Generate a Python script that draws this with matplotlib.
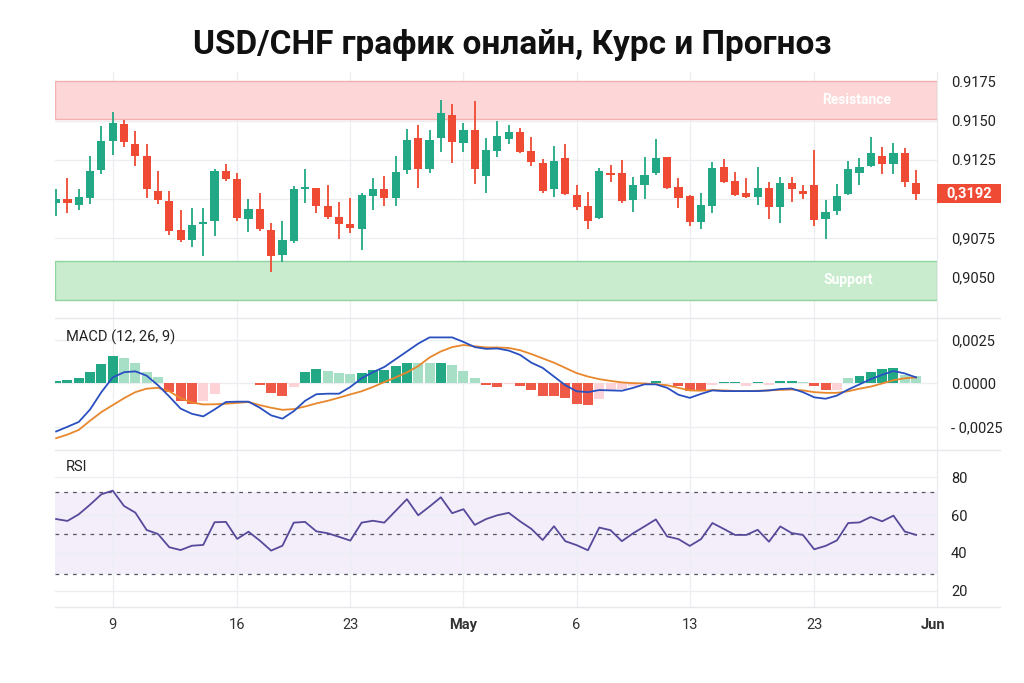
import matplotlib
matplotlib.use('Agg')
import matplotlib.pyplot as plt
from matplotlib.lines import Line2D
from matplotlib.patches import Rectangle

plt.rcParams['font.family'] = ['Roboto', 'DejaVu Sans']

title = 'USD/CHF график онлайн, Курс и Прогноз'

# candles
opens = [0.90972, 0.91000, 0.90964, 0.91009, 0.91186, 0.91374, 0.91481, 0.91353, 0.91276, 0.91051,
         0.90989, 0.90799, 0.90737, 0.90838, 0.90861, 0.91179, 0.91130, 0.90874, 0.90938, 0.90801,
         0.90639, 0.90729, 0.91064, 0.91068, 0.90957, 0.90882, 0.90838, 0.90806, 0.91019, 0.91064,
         0.91009, 0.91186, 0.91391, 0.91192, 0.91393, 0.91538, 0.91361, 0.91442, 0.91150, 0.91308,
         0.91387, 0.91429, 0.91308, 0.91233, 0.91064, 0.91261, 0.91026, 0.90953, 0.90878, 0.91167,
         0.91169, 0.90991, 0.91090, 0.91167, 0.91267, 0.91079, 0.91019, 0.90850, 0.90957, 0.91203,
         0.91113, 0.91038, 0.91013, 0.91068, 0.90947, 0.91100, 0.91049, 0.91088, 0.90874, 0.90923,
         0.91032, 0.91165, 0.91214, 0.91276, 0.91224, 0.91293, 0.91100]
closes = [0.91000, 0.90972, 0.91013, 0.91177, 0.91370, 0.91485, 0.91368, 0.91276, 0.91062, 0.90994,
          0.90795, 0.90735, 0.90835, 0.90855, 0.91182, 0.91126, 0.90880, 0.90938, 0.90806, 0.90637,
          0.90737, 0.91066, 0.91075, 0.90957, 0.90887, 0.90838, 0.90812, 0.91024, 0.91062, 0.91009,
          0.91173, 0.91378, 0.91192, 0.91378, 0.91553, 0.91363, 0.91442, 0.91192, 0.91314, 0.91402,
          0.91429, 0.91303, 0.91237, 0.91053, 0.91246, 0.91032, 0.90951, 0.90861, 0.91182, 0.91154,
          0.90989, 0.91088, 0.91154, 0.91265, 0.91073, 0.91009, 0.90855, 0.90959, 0.91201, 0.91107,
          0.91028, 0.91013, 0.91068, 0.90947, 0.91100, 0.91062, 0.91032, 0.90865, 0.90915, 0.91021,
          0.91190, 0.91203, 0.91293, 0.91224, 0.91293, 0.91107, 0.91034]
highs = [0.91062, 0.91132, 0.91064, 0.91276, 0.91470, 0.91558, 0.91506, 0.91434, 0.91353, 0.91179,
         0.91053, 0.90927, 0.90944, 0.90944, 0.91190, 0.91224, 0.91169, 0.90998, 0.91036, 0.90848,
         0.90861, 0.91085, 0.91192, 0.91068, 0.91090, 0.90981, 0.91004, 0.91036, 0.91137, 0.91147,
         0.91274, 0.91449, 0.91476, 0.91442, 0.91635, 0.91609, 0.91489, 0.91626, 0.91389, 0.91500,
         0.91474, 0.91457, 0.91395, 0.91259, 0.91340, 0.91350, 0.91090, 0.91043, 0.91201, 0.91220,
         0.91250, 0.91139, 0.91267, 0.91385, 0.91271, 0.91137, 0.91024, 0.91041, 0.91239, 0.91259,
         0.91175, 0.91135, 0.91203, 0.91109, 0.91139, 0.91143, 0.91088, 0.91314, 0.90994, 0.91094,
         0.91244, 0.91261, 0.91395, 0.91335, 0.91359, 0.91329, 0.91186]
lows = [0.90893, 0.90912, 0.90929, 0.90968, 0.91162, 0.91282, 0.91331, 0.91212, 0.91009, 0.90970,
        0.90767, 0.90722, 0.90690, 0.90635, 0.90763, 0.91118, 0.90861, 0.90791, 0.90797, 0.90534,
        0.90598, 0.90716, 0.90972, 0.90908, 0.90874, 0.90744, 0.90780, 0.90673, 0.90929, 0.90955,
        0.90955, 0.91158, 0.91068, 0.91169, 0.91303, 0.91229, 0.91299, 0.91094, 0.91036, 0.91267,
        0.91350, 0.91293, 0.91212, 0.91041, 0.91015, 0.91026, 0.90927, 0.90806, 0.90870, 0.91107,
        0.90972, 0.90919, 0.90998, 0.91156, 0.91062, 0.90944, 0.90829, 0.90806, 0.90912, 0.91100,
        0.91019, 0.91006, 0.90962, 0.90870, 0.90848, 0.90983, 0.91002, 0.90827, 0.90741, 0.90900,
        0.91026, 0.91092, 0.91207, 0.91158, 0.91162, 0.91075, 0.90996]

resistance = (0.91512, 0.91755)
support = (0.90353, 0.90603)
last_label = '0,3192'

price_ticks = [0.9175, 0.9150, 0.9125, 0.9100, 0.9075, 0.9050]
price_ticklabels = ['0.9175', '0.9150', '0.9125', '', '0,9075', '0,9050']

# MACD
macd_hist = [0.00012, 0.00020, 0.00031, 0.00064, 0.00113, 0.00156, 0.00146, 0.00121, 0.00068, 0.00035,
             -0.00051, -0.00102, -0.00117, -0.00102, -0.00059, 0.0, 0.00004, 0.00004, -0.00006, -0.00053,
             -0.00072, -0.00023, 0.00064, 0.00086, 0.00074, 0.00061, 0.00053, 0.00061, 0.00078, 0.00078,
             0.00100, 0.00121, 0.00119, 0.00119, 0.00121, 0.00104, 0.00074, 0.00029, -0.00006, -0.00020,
             -0.00002, -0.00017, -0.00038, -0.00071, -0.00071, -0.00085, -0.00119, -0.00127, -0.00090, -0.00042,
             -0.00029, -0.00015, -0.00010, 0.00012, 0.0, -0.00013, -0.00046, -0.00046, -0.00006, 0.00008,
             0.00006, -0.00012, 0.00006, -0.00008, 0.00015, 0.00015, 0.00010, -0.00012, -0.00038, -0.00038,
             0.00029, 0.00042, 0.00065, 0.00081, 0.00090, 0.00050, 0.00044]
hist_kind = ['G', 'G', 'G', 'G', 'G', 'G', 'g', 'g', 'g', 'g',
             'R', 'R', 'R', 'r', 'r', 'G', 'G', 'G', 'R', 'R',
             'R', 'r', 'G', 'G', 'g', 'g', 'g', 'G', 'G', 'G',
             'G', 'G', 'g', 'g', 'G', 'g', 'g', 'g', 'R', 'R',
             'r', 'R', 'R', 'R', 'R', 'R', 'R', 'R', 'r', 'r',
             'r', 'r', 'r', 'G', 'G', 'R', 'R', 'R', 'r', 'G',
             'G', 'r', 'G', 'r', 'G', 'G', 'g', 'R', 'R', 'r',
             'g', 'G', 'G', 'G', 'G', 'g', 'g']
macd_line = [-0.00277, -0.00250, -0.00222, -0.00150, -0.00050, 0.00035, 0.00065, 0.00070, 0.00045, -0.00010,
             -0.00075, -0.00145, -0.00175, -0.00190, -0.00150, -0.00107, -0.00105, -0.00105, -0.00140, -0.00184,
             -0.00203, -0.00160, -0.00100, -0.00062, -0.00059, -0.00059, -0.00020, 0.00030, 0.00065, 0.00095,
             0.00140, 0.00185, 0.00230, 0.00266, 0.00266, 0.00266, 0.00240, 0.00210, 0.00200, 0.00202,
             0.00190, 0.00165, 0.00120, 0.00090, 0.00040, -0.00010, -0.00045, -0.00050, -0.00038, -0.00040,
             -0.00042, -0.00025, -0.00005, -0.00005, -0.00025, -0.00065, -0.00083, -0.00060, -0.00040, -0.00044,
             -0.00044, -0.00044, -0.00044, -0.00040, -0.00032, -0.00029, -0.00050, -0.00080, -0.00088, -0.00070,
             -0.00035, -0.00005, 0.00025, 0.00050, 0.00072, 0.00058, 0.00035]
signal_line = [-0.00316, -0.00295, -0.00268, -0.00215, -0.00165, -0.00125, -0.00085, -0.00050, -0.00030, -0.00025,
               -0.00045, -0.00085, -0.00110, -0.00121, -0.00120, -0.00117, -0.00112, -0.00107, -0.00125, -0.00140,
               -0.00152, -0.00148, -0.00133, -0.00115, -0.00100, -0.00082, -0.00063, -0.00045, -0.00020, 0.00008,
               0.00035, 0.00064, 0.00100, 0.00150, 0.00185, 0.00210, 0.00222, 0.00215, 0.00208, 0.00208,
               0.00205, 0.00192, 0.00170, 0.00145, 0.00120, 0.00090, 0.00060, 0.00040, 0.00025, 0.00015,
               0.00006, 0.00002, 0.00000, -0.00004, -0.00010, -0.00025, -0.00040, -0.00042, -0.00038, -0.00040,
               -0.00043, -0.00044, -0.00042, -0.00040, -0.00037, -0.00035, -0.00040, -0.00050, -0.00054, -0.00054,
               -0.00045, -0.00030, -0.00018, 0.00000, 0.00019, 0.00030, 0.00035]
macd_ticks = [0.0025, 0.0, -0.0025]
macd_ticklabels = ['0,0025', '0.0000', '- 0,0025']

# RSI
rsi = [57.9, 56.9, 60.4, 65.5, 71.0, 72.9, 64.8, 61.3, 52.1, 50.0,
       43.0, 41.5, 43.8, 44.2, 56.2, 56.4, 47.4, 51.2, 46.5, 41.2,
       43.8, 56.0, 56.4, 51.4, 50.4, 48.5, 46.5, 56.0, 57.0, 56.0,
       62.2, 68.4, 59.9, 64.5, 69.4, 61.0, 63.1, 54.8, 57.9, 59.9,
       61.2, 56.7, 52.7, 46.8, 54.1, 46.2, 44.1, 41.4, 53.4, 52.0,
       46.2, 50.4, 54.0, 57.7, 48.7, 47.3, 43.7, 47.3, 55.8, 52.7,
       49.5, 49.5, 52.2, 45.9, 54.0, 50.5, 49.5, 41.9, 43.7, 46.6,
       55.8, 56.1, 59.0, 56.7, 59.7, 51.3, 49.5]
rsi_levels = [72, 50, 29]
rsi_ticks = [80, 60, 40, 20]

date_ticks = [5, 16, 26, 36, 46, 56, 67, 77.5]
date_labels = ['9', '16', '23', 'May', '6', '13', '23', 'Jun']
month_labels = ['May', 'Jun']

GREEN = '#22a884'
RED = '#ef4a34'
GRID = '#eceef2'
hist_colors = {'G': '#22a884', 'g': '#a6dec6', 'R': '#ef5a48', 'r': '#fdd3d8'}

fig = plt.figure(figsize=(10.24, 6.83), dpi=100)
fig.patch.set_facecolor('white')
L, W = 55 / 1024, 882 / 1024
ax_p = fig.add_axes([L, 1 - 318 / 683, W, 246 / 683])
ax_m = fig.add_axes([L, 1 - 450 / 683, W, 132 / 683])
ax_r = fig.add_axes([L, 1 - 607 / 683, W, 157 / 683])

x = list(range(len(opens)))

for ax in (ax_p, ax_m, ax_r):
    ax.set_xlim(-0.1, 77.85)
    for s in ('top', 'left', 'bottom'):
        ax.spines[s].set_visible(False)
    ax.spines['right'].set_color('#e8eaee')
    ax.yaxis.tick_right()
    ax.tick_params(axis='y', length=0, pad=10, labelsize=10.5, labelcolor='#222222')
    ax.tick_params(axis='x', length=0)
    ax.set_xticks(date_ticks)
    ax.grid(True, color=GRID, lw=0.9)
    ax.set_axisbelow(True)
    # no grid line for the "Jun" tick at the right edge
    ax.xaxis.get_gridlines()[-1].set_visible(False)

# price panel
ax_p.set_ylim(0.90237, 0.91814)
ax_p.set_yticks(price_ticks)
ax_p.set_yticklabels(price_ticklabels)
ax_p.set_xticklabels([])
ax_p.axhspan(*resistance, fc='#fdd7d7', ec='#f3b0b0', lw=1, zorder=1)
ax_p.axhspan(*support, fc='#c9ecce', ec='#8fd3a0', lw=1, zorder=1)
ax_p.text(0.909, sum(resistance) / 2, 'Resistance', color='white', weight='bold', fontsize=10,
          ha='center', va='center', transform=ax_p.get_yaxis_transform(), zorder=2)
ax_p.text(0.899, sum(support) / 2, 'Support', color='white', weight='bold', fontsize=10,
          ha='center', va='center', transform=ax_p.get_yaxis_transform(), zorder=2)

cols = [GREEN if c >= o else RED for o, c in zip(opens, closes)]
ax_p.vlines(x, lows, highs, colors=cols, lw=1.3, zorder=3)
bottoms = [min(o, c) for o, c in zip(opens, closes)]
heights = [max(abs(c - o), 0.00008) for o, c in zip(opens, closes)]
ax_p.bar(x, heights, bottom=bottoms, width=0.72, color=cols, zorder=4)

tr = ax_p.get_yaxis_transform()
ax_p.add_patch(Rectangle((1.0, closes[-1] - 0.00061), 64 / 882, 0.00122, transform=tr,
                         fc='#ef4a34', ec='none', clip_on=False, zorder=5))
ax_p.text(1.0 + 32 / 882, closes[-1], last_label, transform=tr, color='white', weight='bold',
          fontsize=10.5, ha='center', va='center', zorder=6)

# MACD panel
ax_m.set_ylim(-0.00384, 0.00378)
ax_m.set_yticks(macd_ticks)
ax_m.set_yticklabels(macd_ticklabels)
ax_m.set_xticklabels([])
ax_m.bar(x, macd_hist, width=0.88, color=[hist_colors[k] for k in hist_kind], zorder=2)
ax_m.plot(x, signal_line, color='#e8872c', lw=1.3, zorder=3)
ax_m.plot(x, macd_line, color='#2a50c0', lw=1.3, zorder=4)
ax_m.text(0.0125, 0.856, 'MACD (12, 26, 9)', transform=ax_m.transAxes, fontsize=10.5,
          color='#222222', va='center')

# RSI panel
ax_r.set_ylim(11.4, 94.4)
ax_r.set_yticks(rsi_ticks)
ax_r.axhspan(rsi_levels[2], rsi_levels[0], fc='#f4eefb', ec='none', zorder=0)
for lvl in rsi_levels:
    ax_r.axhline(lvl, color='#555566', lw=0.9, dashes=(3, 4), zorder=1)
ax_r.plot(x, rsi, color='#574a9a', lw=1.3, zorder=3)
ax_r.text(0.0125, 0.892, 'RSI', transform=ax_r.transAxes, fontsize=10.5, color='#222222', va='center')
ax_r.set_xticklabels(date_labels)
ax_r.tick_params(axis='x', pad=8, labelsize=10.5, labelcolor='#333333')
for lab in ax_r.get_xticklabels():
    if lab.get_text() in month_labels:
        lab.set_fontweight('bold')

# panel separators
for yp in (318, 450, 607):
    fig.add_artist(Line2D([55 / 1024, 1000 / 1024], [1 - yp / 683] * 2, color='#e6e8ec', lw=1))

fig.text(0.5, 1 - 45 / 683, title, ha='center', va='center', fontsize=24, weight='bold',
         color='#111111')

fig.savefig('out.png', dpi=100)
